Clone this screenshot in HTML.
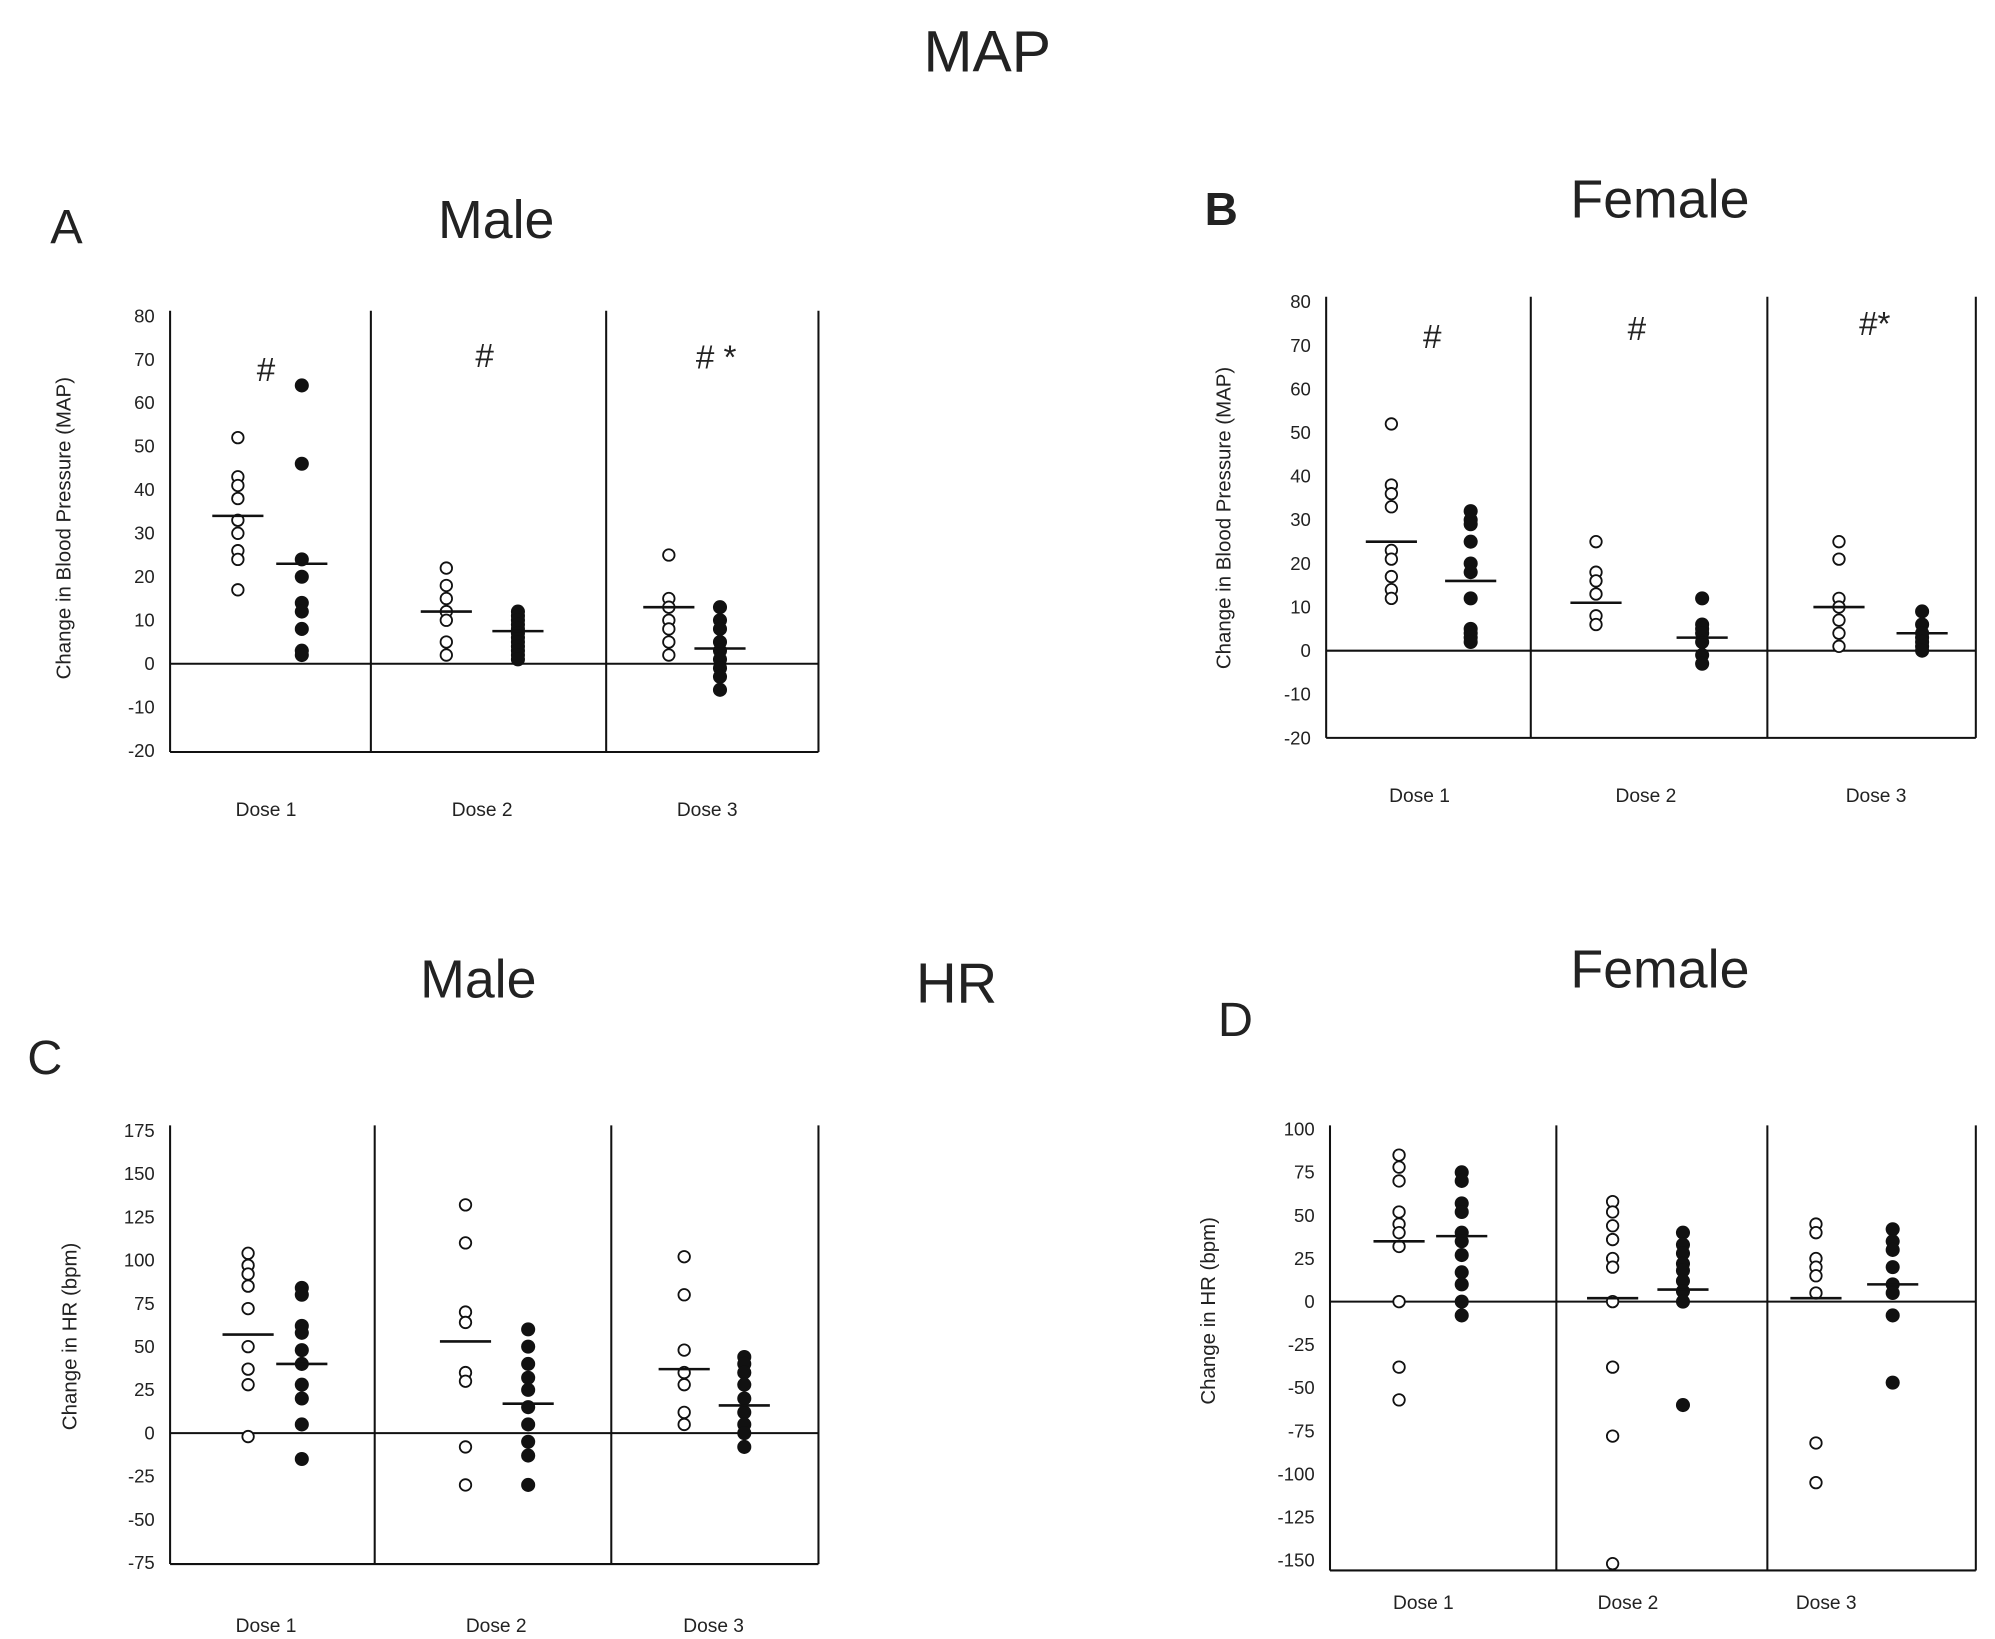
<!DOCTYPE html>
<html><head><meta charset="utf-8">
<style>
html,body{margin:0;padding:0;background:#fff;}
svg{display:block;}
text{font-family:"Liberation Sans",sans-serif;fill:#222;}
</style></head>
<body>
<svg id="fig" width="1995" height="1639" viewBox="0 0 1560 1281.6" xmlns="http://www.w3.org/2000/svg">
<text x="772" y="56" font-size="46" text-anchor="middle">MAP</text>
<text x="52" y="190" font-size="38" text-anchor="middle">A</text>
<text x="388" y="186" font-size="42" text-anchor="middle">Male</text>
<text x="955" y="176" font-size="36" font-weight="bold" text-anchor="middle">B</text>
<text x="1298" y="170" font-size="42" text-anchor="middle">Female</text>
<text x="374" y="780" font-size="42" text-anchor="middle">Male</text>
<text x="748" y="784" font-size="44" text-anchor="middle">HR</text>
<text x="35" y="840" font-size="38" text-anchor="middle">C</text>
<text x="1298" y="772" font-size="42" text-anchor="middle">Female</text>
<text x="966" y="810" font-size="38" text-anchor="middle">D</text>
</svg>
<script>
// ---- data ----
const doseLabels = ["Dose 1","Dose 2","Dose 3"];
const aOpen = [[52,43,41,38,33,30,26,24,17],[22,18,15,12,10,5,2],[25,15,13,10,8,5,2]];
const aFilled = [[64,46,24,20,14,12,8,3,2],[12,11,10,9,8,7,6,5,4,3,2,1],[13,10,8,5,3,1,-1,-3,-6]];
const aOpenMean = [34,12,13];
const aFilledMean = [23,7.5,3.5];
const bOpen = [[52,38,36,33,23,21,17,14,12],[25,18,16,13,8,6],[25,21,12,10,7,4,1]];
const bFilled = [[32,30,29,25,20,18,12,5,4,3,2],[12,6,5,4,2,-1,-3],[9,6,4,3,2,1,0]];
const bOpenMean = [25,11,10];
const bFilledMean = [16,3,4];
const cOpen = [[104,97,92,85,72,50,37,28,-2],[132,110,70,64,35,30,-8,-30],[102,80,48,35,28,12,5]];
const cFilled = [[84,80,62,58,48,40,28,20,5,-15],[60,50,40,32,25,15,5,-5,-13,-30],[44,40,35,28,20,12,5,0,-8]];
const cOpenMean = [57,53,37];
const cFilledMean = [40,17,16];
const dOpen = [[85,78,70,52,45,40,32,0,-38,-57],[58,52,44,36,25,20,0,-38,-78,-152],[45,40,25,20,15,5,-82,-105]];
const dFilled = [[75,70,57,52,40,35,27,17,10,0,-8],[40,33,28,22,18,12,6,0,-60],[42,35,30,20,10,5,-8,-47]];
const dOpenMean = [35,2,2];
const dFilledMean = [38,7,10];
const mapTicks = [80,70,60,50,40,30,20,10,0,-10,-20];
const crTicks = [175,150,125,100,75,50,25,0,-25,-50,-75];
const drTicks = [100,75,50,25,0,-25,-50,-75,-100,-125,-150];
const aMarks = ["#","#","# *"];
const bMarks = ["#","#","#*"];

const NS="http://www.w3.org/2000/svg";
const svg=document.getElementById('fig');
function mk(tag,attrs,parent){const e=document.createElementNS(NS,tag);for(const k in attrs)e.setAttribute(k,attrs[k]);(parent||svg).appendChild(e);return e;}

function panel(cfg){
  const g=mk('g',{});
  
  
  const y=v=>cfg.yTop+(cfg.vMax-v)*(cfg.yBot-cfg.yTop)/(cfg.vMax-cfg.vMin);
  // axes
  const ax=mk('line',{x1:cfg.left,x2:cfg.left,y1:cfg.top,y2:cfg.bottom,stroke:'#111','stroke-width':1.6},g);
  
  
  const rx=mk('line',{x1:cfg.right,x2:cfg.right,y1:cfg.top,y2:cfg.bottom,stroke:'#111','stroke-width':1.6},g);
  
  
  cfg.dividers.forEach(dx=>{
    const l=mk('line',{x1:dx,x2:dx,y1:cfg.top,y2:cfg.bottom,stroke:'#111','stroke-width':1.6},g);
    
    
  });
  const bl=mk('line',{x1:cfg.left,x2:cfg.right,y1:cfg.bottom,y2:cfg.bottom,stroke:'#111','stroke-width':1.6},g);
  
  
  const zl=mk('line',{x1:cfg.left,x2:cfg.right,y1:y(0),y2:y(0),stroke:'#111','stroke-width':1.6},g);
  
  
  cfg.ticks.forEach(t=>{
    const tx=mk('text',{x:cfg.left-12,y:y(t)+5,'font-size':14.5,'text-anchor':'end'},g);
    tx.textContent=t;
    
    
  });
  const tt=mk('text',{x:0,y:0,'font-size':16,'text-anchor':'middle',transform:`translate(${cfg.titleX},${cfg.titleY}) rotate(-90)`},g);
  tt.textContent=cfg.yTitle;
  
  
  doseLabels.forEach((d,i)=>{
    const t=mk('text',{x:cfg.labelX[i],y:cfg.labelY,'font-size':15,'text-anchor':'middle'},g);
    t.textContent=d;
    
    
  });
  for(let i=0;i<3;i++){
    cfg.open[i].forEach(v=>{
      const c=mk('circle',{cx:cfg.ox[i],cy:y(v),r:4.5,fill:'#fff',stroke:'#111','stroke-width':1.4},g);
      
      
    });
    cfg.filled[i].forEach(v=>{
      const c=mk('circle',{cx:cfg.fx[i],cy:y(v),r:5.5,fill:'#111'},g);
      
      
    });
    const m1=mk('line',{x1:cfg.ox[i]-20,x2:cfg.ox[i]+20,y1:y(cfg.openMean[i]),y2:y(cfg.openMean[i]),stroke:'#111','stroke-width':2},g);
    
    
    const m2=mk('line',{x1:cfg.fx[i]-20,x2:cfg.fx[i]+20,y1:y(cfg.filledMean[i]),y2:y(cfg.filledMean[i]),stroke:'#111','stroke-width':2},g);
    
    
    if(cfg.marks){
      const t=mk('text',{x:cfg.markX[i],y:cfg.markY[i],'font-size':26,'text-anchor':'middle'},g);
      t.textContent=cfg.marks[i];
      
      
    }
  }
}

panel({name:'panel-a-chart',left:133,right:640,top:243,bottom:588,dividers:[290,474],yTop:247,yBot:587,vMax:80,vMin:-20,ticks:mapTicks,
  yTitle:'Change in Blood Pressure (MAP)',titleX:55,titleY:413,labelX:[208,377,553],labelY:638,
  ox:[186,349,523],fx:[236,405,563],open:aOpen,filled:aFilled,openMean:aOpenMean,filledMean:aFilledMean,
  marks:aMarks,markX:[208,379,560],markY:[298,287,288]});
panel({name:'panel-b-chart',left:1037,right:1545,top:232,bottom:577,dividers:[1197,1382],yTop:236,yBot:577,vMax:80,vMin:-20,ticks:mapTicks,
  yTitle:'Change in Blood Pressure (MAP)',titleX:962,titleY:405,labelX:[1110,1287,1467],labelY:627,
  ox:[1088,1248,1438],fx:[1150,1331,1503],open:bOpen,filled:bFilled,openMean:bOpenMean,filledMean:bFilledMean,
  marks:bMarks,markX:[1120,1280,1466],markY:[272,266,262]});
panel({name:'panel-c-chart',left:133,right:640,top:880,bottom:1223,dividers:[293,478],yTop:884,yBot:1222,vMax:175,vMin:-75,ticks:crTicks,
  yTitle:'Change in HR (bpm)',titleX:60,titleY:1045,labelX:[208,388,558],labelY:1276,
  ox:[194,364,535],fx:[236,413,582],open:cOpen,filled:cFilled,openMean:cOpenMean,filledMean:cFilledMean});
panel({name:'panel-d-chart',left:1040,right:1545,top:880,bottom:1228,dividers:[1217,1382],yTop:883,yBot:1220,vMax:100,vMin:-150,ticks:drTicks,
  yTitle:'Change in HR (bpm)',titleX:950,titleY:1025,labelX:[1113,1273,1428],labelY:1258,
  ox:[1094,1261,1420],fx:[1143,1316,1480],open:dOpen,filled:dFilled,openMean:dOpenMean,filledMean:dFilledMean});
</script>
</body></html>
